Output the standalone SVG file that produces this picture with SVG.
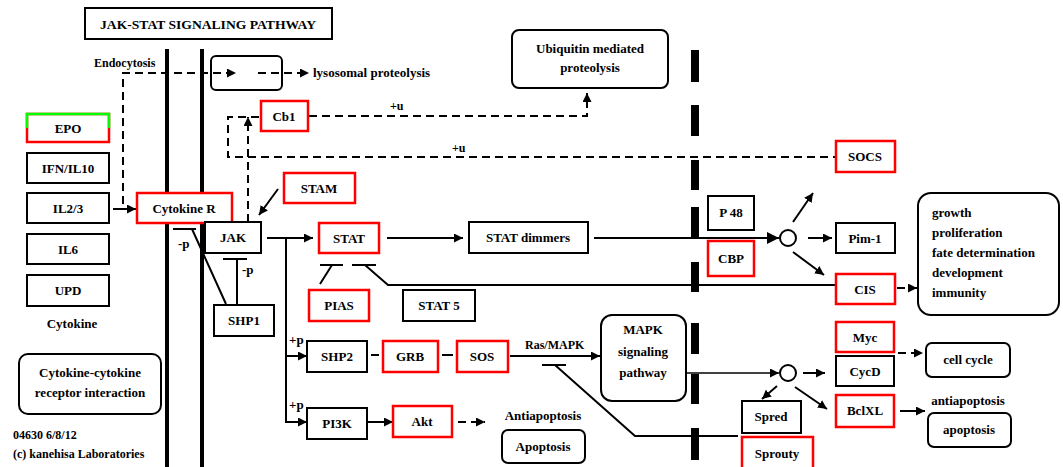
<svg xmlns="http://www.w3.org/2000/svg" width="1063" height="467" viewBox="0 0 1063 467">
<style>
text{font-family:"Liberation Serif","Times New Roman",serif;font-weight:bold;font-size:13px;fill:#000}
.c{text-anchor:middle}
.s{font-size:12px}
.b{fill:#fff;stroke:#000;stroke-width:2}
.r{fill:#fff;stroke:#f00;stroke-width:2.5}
.ln{fill:none;stroke:#000;stroke-width:2}
.th{fill:none;stroke:#000;stroke-width:1.3}
.d{fill:none;stroke:#000;stroke-width:2;stroke-dasharray:8 5}
.mem{stroke:#000;stroke-width:4}
.bk{fill:#000}
</style>
<defs>
<marker id="a" viewBox="0 0 10 10" refX="10" refY="5" markerWidth="9" markerHeight="9" markerUnits="userSpaceOnUse" orient="auto"><path d="M0,0 L10,5 L0,10 z" fill="#000"/></marker>
<marker id="ab" viewBox="0 0 10 10" refX="10" refY="5" markerWidth="12" markerHeight="12" markerUnits="userSpaceOnUse" orient="auto"><path d="M0,0 L10,5 L0,10 z" fill="#000"/></marker>
</defs>
<rect width="1063" height="467" fill="#fff"/>

<g id="title"><rect x="85" y="8" width="247" height="31" class="b"/><text x="208" y="29" class="c" textLength="216" lengthAdjust="spacingAndGlyphs">JAK-STAT SIGNALING PATHWAY</text></g>

<g id="membrane">
<line x1="167" y1="49" x2="167" y2="467" class="mem"/>
<line x1="202" y1="49" x2="202" y2="467" class="mem"/>
<rect x="691" y="50" width="8" height="32" class="bk"/>
<rect x="691" y="105" width="8" height="31" class="bk"/>
<rect x="691" y="160" width="8" height="30" class="bk"/>
<rect x="691" y="207" width="8" height="30" class="bk"/>
<rect x="691" y="262" width="8" height="30" class="bk"/>
<rect x="691" y="323" width="8" height="31" class="bk"/>
<rect x="691" y="374" width="8" height="30" class="bk"/>
<rect x="691" y="428" width="8" height="32" class="bk"/>
</g>

<g id="connectors">
<path d="M123,204 V73 H236" class="d" marker-end="url(#a)"/>
<path d="M258,73 H309" class="d" marker-end="url(#a)"/>
<path d="M309,116 H587 V93" class="d" marker-end="url(#a)"/>
<path d="M259,117 H228 V157 H836" class="d"/>
<path d="M248,222 V117" class="d" marker-end="url(#a)"/>
<path d="M113,209 H136" class="ln" marker-end="url(#a)"/>
<path d="M278,189 L259,215" class="ln" marker-end="url(#a)"/>
<path d="M173,229 H196 M192,229 L226,304" class="ln"/>
<path d="M223,259 H247 M237,259 V304" class="ln"/>
<path d="M267,238 H313" class="ln" marker-end="url(#a)"/>
<path d="M286,238 V423" class="ln"/>
<path d="M286,356 H307" class="ln" marker-end="url(#a)"/>
<path d="M286,422 H307" class="ln" marker-end="url(#a)"/>
<path d="M387,238 H463" class="ln" marker-end="url(#a)"/>
<path d="M594,238 H779" class="ln" stroke-width="2.5" marker-end="url(#ab)"/>
<path d="M320,265 H343 M320,284 L332,265" class="ln"/>
<path d="M352,265 H376 M365,265 L388,285 H836" class="ln"/>
<path d="M793,222 L813,193" class="ln" marker-end="url(#a)"/>
<path d="M808,238 H832" class="ln" marker-end="url(#a)"/>
<path d="M793,252 L824,275" class="ln" marker-end="url(#a)"/>
<path d="M897,288 H917" class="d" stroke-dasharray="6 4" marker-end="url(#a)"/>
<path d="M371,355 H379 M442,355 H453" class="ln"/>
<path d="M510,356 H600" class="ln" marker-end="url(#a)"/>
<path d="M542,365 H566 M555,365 L635,436 H738" class="ln"/>
<path d="M686,373 H779" class="th" marker-end="url(#a)"/>
<path d="M803,373 H825" class="ln" marker-end="url(#a)"/>
<path d="M777,386 L762,399" class="ln" marker-end="url(#a)"/>
<path d="M795,387 L827,409" class="ln" marker-end="url(#a)"/>
<path d="M898,353 H923" class="d" stroke-dasharray="6 4" marker-end="url(#a)"/>
<path d="M900,411 H925" class="ln" marker-end="url(#a)"/>
<path d="M368,422 H393" class="ln" marker-end="url(#a)"/>
<path d="M458,422 H485" class="d" stroke-dasharray="6 4" marker-end="url(#a)"/>
<circle cx="788" cy="238" r="8" fill="#fff" stroke="#000" stroke-width="2"/>
<circle cx="788" cy="373" r="8" fill="#fff" stroke="#000" stroke-width="2"/>
</g>

<g id="labels">
<text x="94" y="67" class="s">Endocytosis</text>
<text x="313" y="77">lysosomal proteolysis</text>
<text x="390" y="110" class="s">+u</text>
<text x="452" y="152" class="s">+u</text>
<text x="178" y="248">-p</text>
<text x="242" y="274">-p</text>
<text x="289" y="344">+p</text>
<text x="289" y="409">+p</text>
<text x="525" y="349" class="s">Ras/MAPK</text>
<text x="543" y="420" class="c">Antiapoptosis</text>
<text x="968" y="405" class="c">antiapoptosis</text>
<text x="72" y="328" class="c">Cytokine</text>
<text x="13" y="439" class="s">04630 6/8/12</text>
<text x="13" y="458" class="s">(c) kanehisa Laboratories</text>
</g>

<g id="lysosome"><rect x="211" y="56" width="71" height="34" rx="5" fill="none" stroke="#000" stroke-width="2"/></g>
<g id="ubiquitin"><rect x="512" y="30" width="156" height="58" rx="7" class="b"/><text x="590" y="53" class="c">Ubiquitin mediated</text><text x="590" y="72" class="c">proteolysis</text></g>

<g id="EPO"><rect x="27" y="114" width="82" height="28" class="r"/><path d="M27,128 V114 H109 V128" fill="none" stroke="#0f0" stroke-width="2.5"/><text x="68" y="133" class="c">EPO</text></g>
<g id="IFN"><rect x="27" y="153" width="82" height="30" class="b"/><text x="68" y="173" class="c">IFN/IL10</text></g>
<g id="IL23"><rect x="27" y="193" width="82" height="30" class="b"/><text x="68" y="213" class="c">IL2/3</text></g>
<g id="IL6"><rect x="27" y="234" width="82" height="30" class="b"/><text x="68" y="254" class="c">IL6</text></g>
<g id="UPD"><rect x="27" y="275" width="82" height="31" class="b"/><text x="68" y="295" class="c">UPD</text></g>
<g id="ccri"><rect x="19" y="354" width="142" height="60" rx="9" class="b"/><text x="90" y="377" class="c">Cytokine-cytokine</text><text x="90" y="397" class="c">receptor interaction</text></g>

<g id="CytokineR"><rect x="137" y="193" width="95" height="30" class="r"/><text x="184" y="213" class="c">Cytokine R</text></g>
<g id="Cb1"><rect x="261" y="101" width="47" height="30" class="r"/><text x="284" y="121" class="c">Cb1</text></g>
<g id="STAM"><rect x="284" y="173" width="71" height="30" class="r"/><text x="319" y="193" class="c">STAM</text></g>
<g id="JAK"><rect x="205" y="222" width="56" height="31" class="b"/><text x="233" y="242" class="c">JAK</text></g>
<g id="SHP1"><rect x="214" y="305" width="60" height="31" class="b"/><text x="244" y="325" class="c">SHP1</text></g>
<g id="STAT"><rect x="319" y="223" width="60" height="30" class="r"/><text x="349" y="243" class="c">STAT</text></g>
<g id="PIAS"><rect x="309" y="290" width="60" height="31" class="r"/><text x="339" y="310" class="c">PIAS</text></g>
<g id="STAT5"><rect x="403" y="290" width="72" height="31" class="b"/><text x="439" y="310" class="c">STAT 5</text></g>
<g id="STATdimmers"><rect x="469" y="222" width="119" height="31" class="b"/><text x="528" y="242" class="c">STAT dimmers</text></g>
<g id="SOCS"><rect x="836" y="141" width="59" height="31" class="r"/><text x="865" y="161" class="c">SOCS</text></g>
<g id="P48"><rect x="708" y="196" width="46" height="34" class="b"/><text x="731" y="217" class="c">P 48</text></g>
<g id="CBP"><rect x="708" y="241" width="46" height="35" class="r"/><text x="731" y="263" class="c">CBP</text></g>
<g id="Pim1"><rect x="836" y="223" width="59" height="30" class="b"/><text x="865" y="243" class="c">Pim-1</text></g>
<g id="CIS"><rect x="836" y="274" width="59" height="30" class="r"/><text x="865" y="294" class="c">CIS</text></g>
<g id="outcomes"><rect x="918" y="193" width="141" height="122" rx="13" class="b"/>
<text x="932" y="217">growth</text><text x="932" y="237">proliferation</text><text x="932" y="257">fate determination</text><text x="932" y="277">development</text><text x="932" y="297">immunity</text></g>
<g id="SHP2"><rect x="307" y="341" width="60" height="31" class="b"/><text x="337" y="361" class="c">SHP2</text></g>
<g id="GRB"><rect x="383" y="341" width="55" height="31" class="r"/><text x="410" y="361" class="c">GRB</text></g>
<g id="SOS"><rect x="457" y="341" width="51" height="31" class="r"/><text x="482" y="361" class="c">SOS</text></g>
<g id="MAPK"><rect x="601" y="315" width="85" height="86" rx="11" class="b"/><text x="643" y="334" class="c">MAPK</text><text x="643" y="356" class="c">signaling</text><text x="643" y="377" class="c">pathway</text></g>
<g id="PI3K"><rect x="307" y="408" width="60" height="31" class="b"/><text x="337" y="428" class="c">PI3K</text></g>
<g id="Akt"><rect x="393" y="406" width="59" height="31" class="r"/><text x="422" y="426" class="c">Akt</text></g>
<g id="Apoptosis"><rect x="502" y="430" width="83" height="33" rx="6" class="b"/><text x="543" y="451" class="c">Apoptosis</text></g>
<g id="Myc"><rect x="836" y="322" width="58" height="30" class="r"/><text x="865" y="342" class="c">Myc</text></g>
<g id="CycD"><rect x="836" y="356" width="58" height="30" class="b"/><text x="865" y="376" class="c">CycD</text></g>
<g id="BclXL"><rect x="836" y="395" width="58" height="32" class="r"/><text x="865" y="415" class="c">BclXL</text></g>
<g id="cellcycle"><rect x="926" y="343" width="84" height="34" rx="6" class="b"/><text x="968" y="364" class="c">cell cycle</text></g>
<g id="apoptosis2"><rect x="928" y="413" width="83" height="34" rx="6" class="b"/><text x="969" y="434" class="c">apoptosis</text></g>
<g id="Spred"><rect x="742" y="401" width="59" height="32" class="b"/><text x="771" y="421" class="c">Spred</text></g>
<g id="Sprouty"><rect x="742" y="437" width="71" height="34" class="r"/><text x="777" y="458" class="c">Sprouty</text></g>
</svg>
